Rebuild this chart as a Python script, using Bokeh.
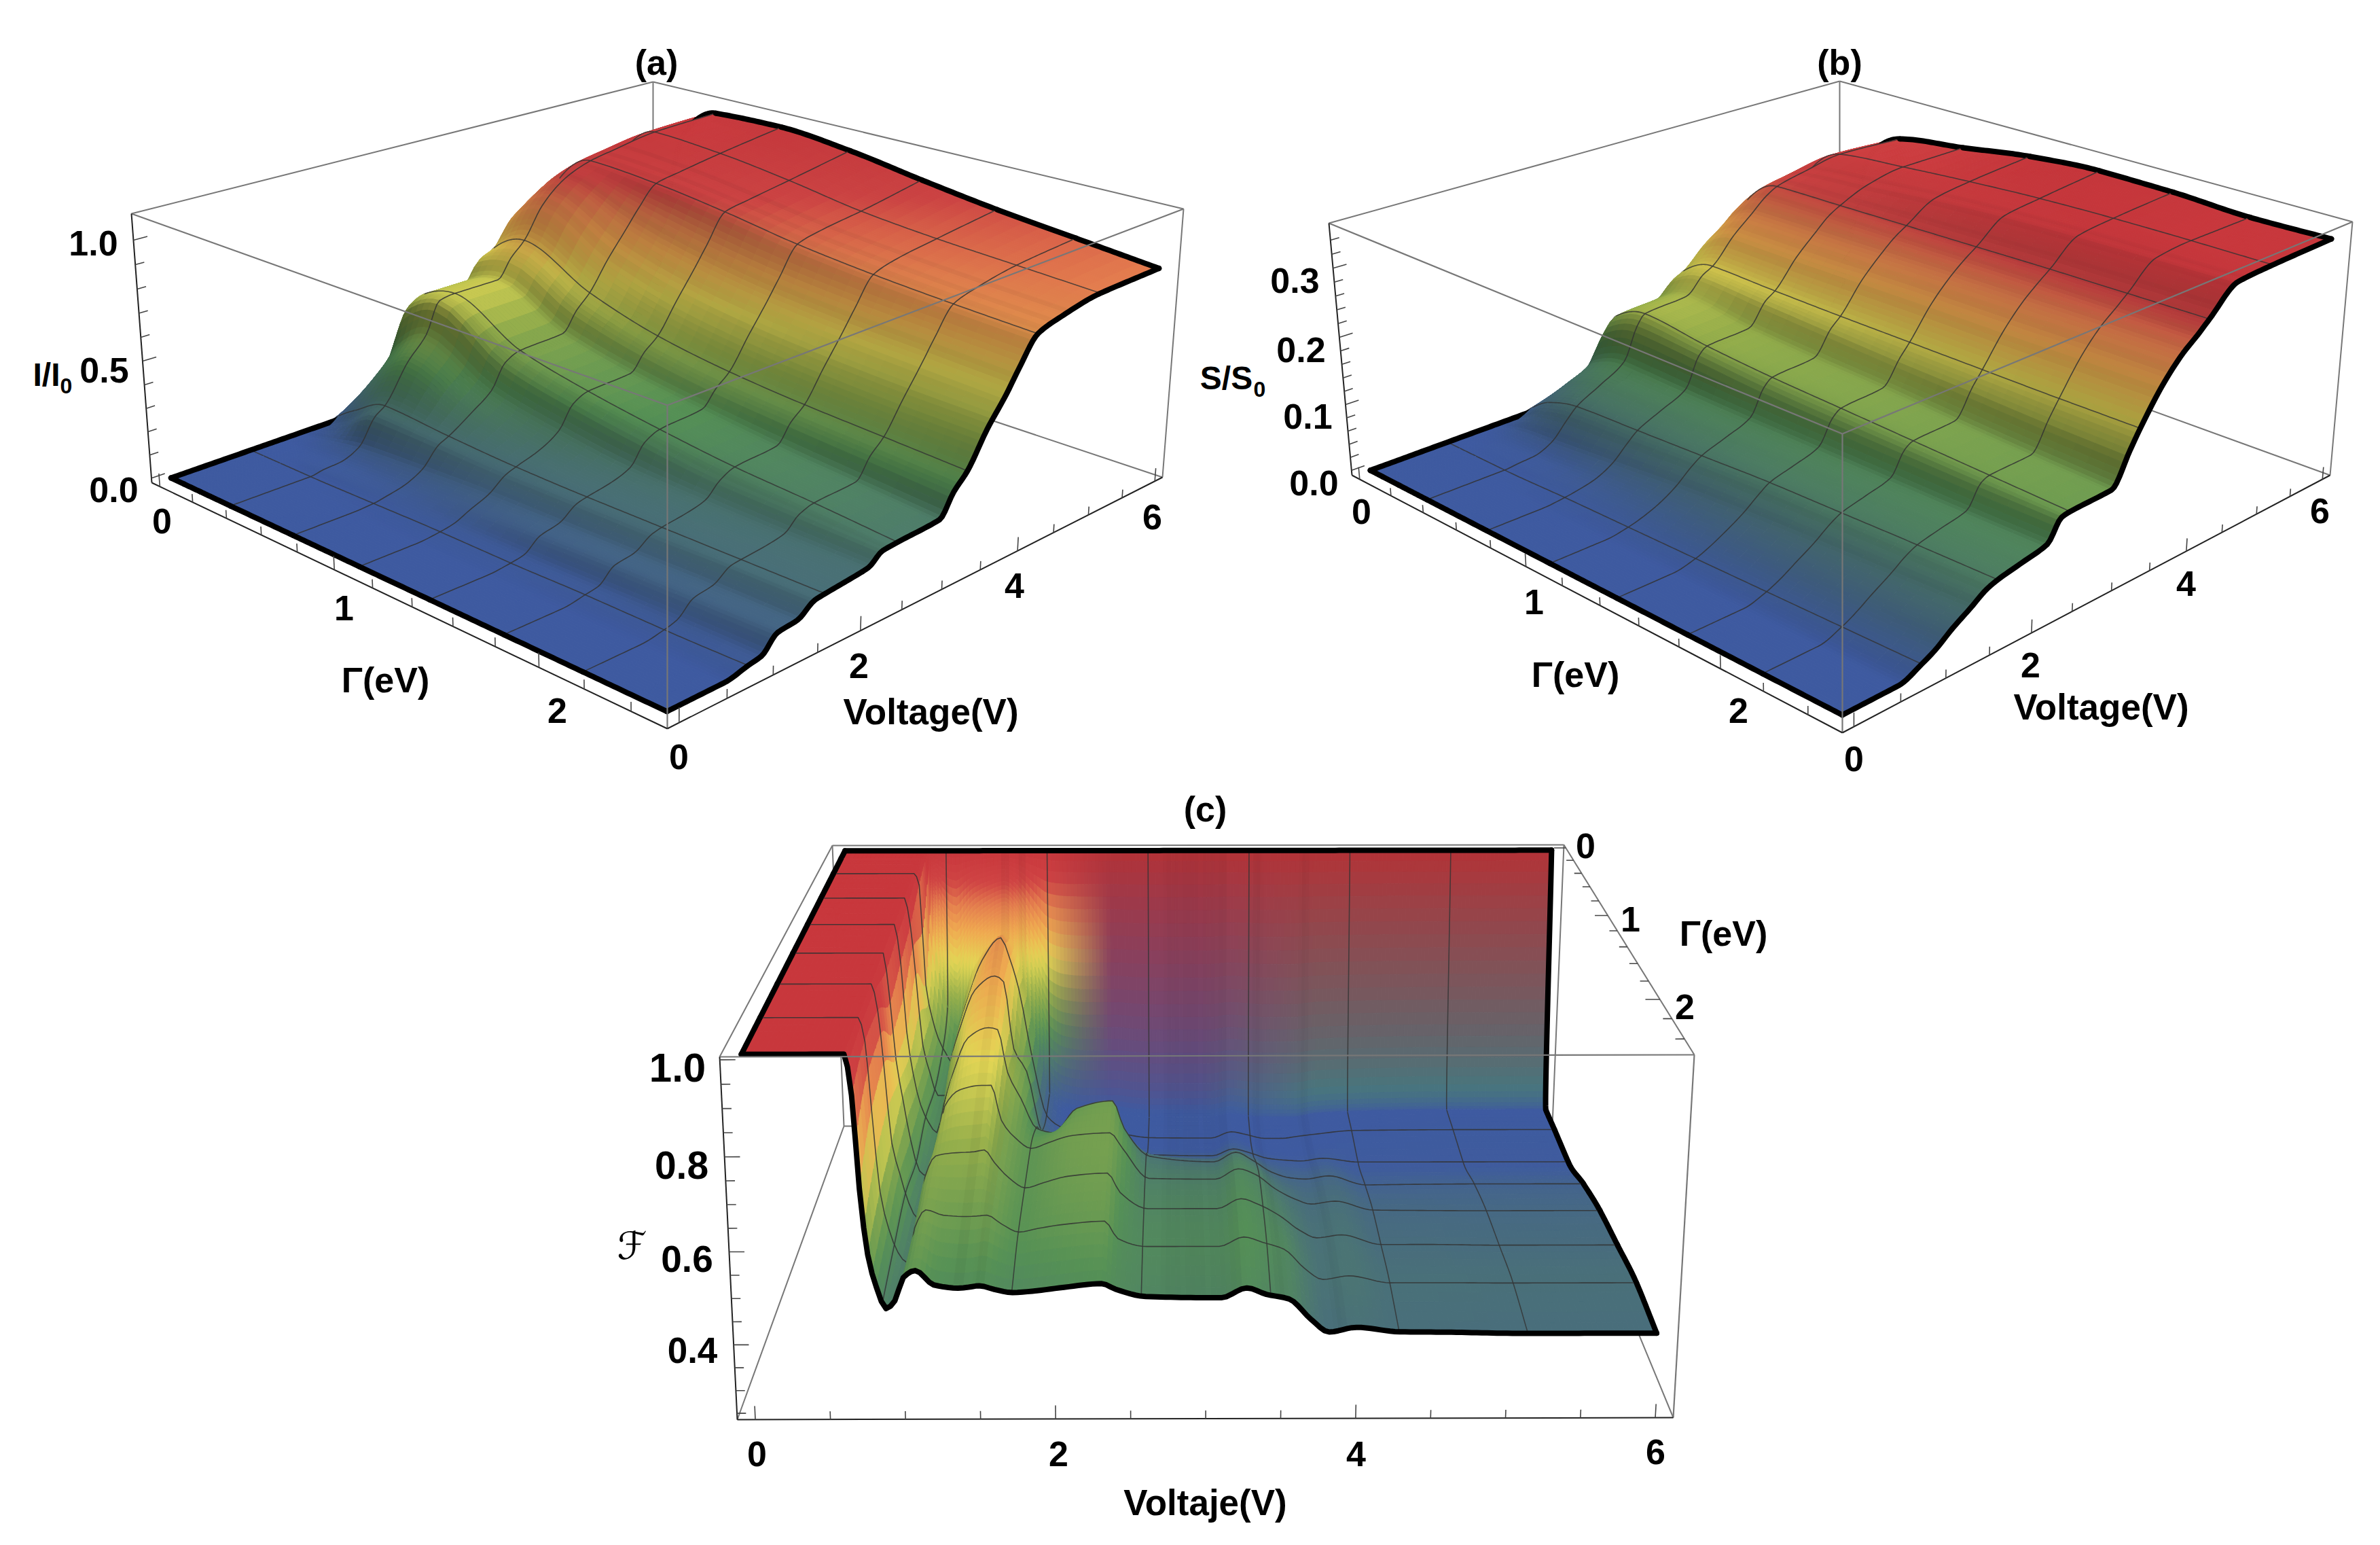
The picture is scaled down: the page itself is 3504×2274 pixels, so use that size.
import numpy as np
from bokeh.plotting import figure
from bokeh.models import Range1d
from bokeh.core.properties import value
from bokeh.embed import file_html
from bokeh.resources import INLINE

# ---------- data ----------
GAMMA_MESH = [0.357, 0.714, 1.071, 1.429, 1.786, 2.143, 2.5]
V_MESH = [0.857, 1.714, 2.571, 3.429, 4.286, 5.143]

V_A = [0,.6,.86,1.0,1.18,1.4,1.6,1.71,2.0,2.22,2.39,2.57,3.09,3.26,3.43,3.66,3.9,4.05,4.29,4.6,5.14,6]
GAMMA_A = [0,.08,.18,.357,.714,1.071,1.429,1.786,2.143,2.5]
I_G000 = [0]*22
I_G008 = [0,0,0,0,0,.008,.03,.06,.13,.17,.26,.27,.28,.32,.36,.43,.47,.49,.5,.51,.53,.55]
I_G018 = [0,0,0,.002,.005,.025,.07,.115,.24,.34,.50,.53,.53,.61,.64,.75,.81,.84,.87,.89,.91,.92]
I_G036 = [0,0,0,.01,.015,.05,.16,.19,.35,.44,.57,.58,.58,.66,.72,.85,.93,.96,.99,1.01,1.04,1.05]
I_G071 = [0,0,.005,.015,.03,.07,.15,.17,.24,.30,.40,.43,.44,.52,.58,.70,.81,.88,.97,.99,1.02,1.06]
I_G107 = [0,0,.01,.02,.05,.085,.14,.155,.19,.24,.33,.36,.37,.44,.49,.61,.73,.81,.93,.95,.98,1.03]
I_G143 = [0,0,.01,.02,.07,.09,.14,.15,.17,.20,.28,.31,.325,.39,.44,.56,.68,.76,.88,.905,.93,.98]
I_G179 = [0,0,.015,.025,.08,.095,.14,.15,.165,.185,.24,.27,.285,.36,.41,.53,.65,.73,.845,.875,.90,.935]
I_G214 = [0,0,.015,.03,.085,.10,.145,.15,.16,.175,.225,.245,.255,.335,.39,.51,.63,.71,.82,.85,.88,.90]
I_G250 = [0,0,.02,.03,.09,.10,.145,.15,.16,.17,.21,.215,.225,.31,.37,.50,.61,.69,.80,.83,.86,.865]
I_ROWS = [I_G000,I_G008,I_G018,I_G036,I_G071,I_G107,I_G143,I_G179,I_G214,I_G250]

V_B = [0,.6,.86,1.0,1.2,1.4,1.59,1.71,2.0,2.3,2.47,2.57,3.09,3.31,3.43,3.71,3.95,4.14,4.29,4.66,5.14,6]
GAMMA_B = GAMMA_A
S_G000 = [0]*22
S_G008 = [0,0,0,0,.001,.005,.014,.022,.032,.042,.064,.072,.076,.088,.092,.108,.12,.128,.132,.136,.14,.136]
S_G018 = [0,0,0,.001,.003,.011,.029,.041,.06,.081,.124,.138,.143,.166,.173,.204,.225,.244,.253,.262,.269,.262]
S_G036 = [0,0,0,.002,.004,.015,.04,.055,.075,.098,.145,.16,.165,.19,.198,.235,.26,.28,.29,.30,.31,.305]
S_G071 = [0,0,.003,.006,.012,.025,.047,.06,.077,.095,.138,.148,.152,.185,.195,.235,.262,.282,.292,.31,.32,.32]
S_G107 = [0,0,.005,.01,.02,.035,.055,.065,.078,.093,.13,.14,.145,.18,.193,.236,.264,.283,.294,.32,.328,.336]
S_G143 = [0,0,.007,.014,.027,.042,.06,.07,.08,.092,.126,.135,.14,.175,.192,.237,.266,.284,.296,.327,.334,.344]
S_G179 = [0,0,.009,.017,.032,.047,.064,.072,.081,.091,.123,.13,.133,.172,.191,.237,.267,.285,.298,.331,.337,.343]
S_G214 = [0,0,.011,.02,.036,.051,.067,.074,.082,.09,.12,.125,.127,.168,.19,.238,.268,.285,.299,.333,.338,.338]
S_G250 = [0,0,.013,.022,.04,.055,.07,.075,.082,.09,.118,.12,.122,.166,.19,.238,.268,.285,.30,.335,.338,.34]
S_ROWS = [S_G000,S_G008,S_G018,S_G036,S_G071,S_G107,S_G143,S_G179,S_G214,S_G250]

V_C = [0,.66,.70,.73,.77,.82,.88,.94,1.0,1.08,1.2,1.36,1.43,1.5,1.6,1.72,1.85,2.03,2.31,2.4,2.6,3.1,3.27,3.4,3.55,3.7,3.82,4.0,4.29,4.6,5.14,6]
GAMMA_C = [0,.12,.357,.714,1.071,1.429,1.786,2.143,2.5]
F_G000 = [1]*32
F_G012 = [1,1,.99,.85,.75,.65,.58,.55,.62,.70,.76,.80,.76,.68,.52,.36,.32,.31,.31,.305,.30,.30,.31,.305,.30,.30,.30,.31,.315,.318,.32,.32]
F_G036 = [1,1,.97,.71,.63,.57,.53,.502,.60,.68,.775,.834,.78,.70,.52,.36,.33,.32,.32,.31,.302,.301,.318,.31,.30,.30,.305,.312,.321,.322,.323,.323]
F_G071 = [1,1,.93,.808,.63,.56,.50,.50,.60,.68,.77,.805,.79,.62,.562,.40,.37,.36,.375,.36,.345,.342,.36,.35,.335,.33,.328,.335,.325,.325,.325,.325]
F_G107 = [1,1,.906,.74,.636,.56,.515,.49,.56,.64,.725,.75,.745,.64,.575,.50,.49,.55,.569,.50,.43,.416,.44,.42,.39,.375,.372,.38,.357,.358,.359,.359]
F_G143 = [1,1,.883,.75,.66,.56,.485,.472,.513,.64,.68,.69,.69,.607,.565,.539,.553,.57,.576,.54,.466,.464,.489,.475,.44,.415,.403,.41,.388,.387,.386,.386]
F_G179 = [1,1,.94,.82,.64,.57,.50,.465,.562,.61,.617,.62,.624,.595,.56,.536,.548,.563,.57,.525,.487,.487,.51,.496,.47,.435,.418,.425,.402,.402,.40,.40]
F_G214 = [1,1,.949,.80,.62,.54,.485,.462,.54,.58,.568,.565,.566,.568,.548,.53,.538,.547,.554,.515,.497,.497,.518,.506,.49,.445,.422,.43,.414,.414,.413,.413]
F_G250 = [1,1,.915,.72,.58,.51,.463,.48,.53,.545,.514,.507,.509,.512,.504,.497,.50,.507,.516,.504,.488,.485,.506,.492,.482,.437,.41,.42,.41,.409,.406,.406]
F_ROWS = [F_G000,F_G012,F_G036,F_G071,F_G107,F_G143,F_G179,F_G214,F_G250]
WALL_BLEND_V = [0,1.7,2.25,6]
WALL_BLEND_W = [0,0,1,1]
WALL_TEAL_V = [0,3.0,4.0,6]
WALL_TEAL_W = [0,0,1,1]

STRIPES_A = [1.45,1.55,2.34,2.44,3.2,3.3,3.7,3.82,4.0,4.2,4.35,4.5,4.7]
STRIPES_B = [1.45,1.6,2.3,2.45,3.25,3.35,3.65,3.8,4.0,4.15,4.3,4.4,4.6,4.75]
STRIPES_C = [1.36,1.5,2.75,2.82,2.9,2.97,3.05,3.12,3.2,3.5,3.9]

CMAP_POS = [0,.12,.3,.45,.58,.70,.80,.88,1.0]
CMAP_RGB = [(62,90,160),(72,108,125),(85,145,85),(150,175,75),(228,215,85),(240,170,80),(228,125,78),(208,68,68),(200,55,60)]

# ---------- helpers ----------
def pchip(x, y, xq):
    x = np.asarray(x, float); y = np.asarray(y, float); xq = np.asarray(xq, float)
    h = np.diff(x); d = np.diff(y)/h
    m = np.zeros_like(y)
    for i in range(1, len(y)-1):
        if d[i-1]*d[i] > 0:
            w1 = 2*h[i]+h[i-1]; w2 = h[i]+2*h[i-1]
            m[i] = (w1+w2)/(w1/d[i-1]+w2/d[i])
    m[0] = d[0]; m[-1] = d[-1]
    i = np.clip(np.searchsorted(x, xq, side="right")-1, 0, len(h)-1)
    t = (xq-x[i])/h[i]
    return ((2*t**3-3*t**2+1)*y[i] + (t**3-2*t**2+t)*h[i]*m[i]
            + (-2*t**3+3*t**2)*y[i+1] + (t**3-t**2)*h[i]*m[i+1])

def subdivide(knots, step, minsub):
    out = []
    for a, b in zip(knots[:-1], knots[1:]):
        n = max(minsub, int(np.ceil((b-a)/step)))
        out.extend(np.linspace(a, b, n, endpoint=False))
    out.append(knots[-1])
    return np.array(out)

VL, VH, GL, GH = -0.12, 6.12, -0.05, 2.55

class Cam:
    """corners: dict keyed by (iV,iG,iZ) in {0,1} giving the screen point of that box corner."""
    def __init__(self, corners, zl, zh):
        self.zl, self.zh = zl, zh
        A = []
        for (a, b, c), (u, v) in corners.items():
            X, Y, Z = (VL, VH)[a], (GL, GH)[b], (zl, zh)[c]
            A.append([X, Y, Z, 1, 0, 0, 0, 0, -u*X, -u*Y, -u*Z, -u])
            A.append([0, 0, 0, 0, X, Y, Z, 1, -v*X, -v*Y, -v*Z, -v])
        self.M = np.linalg.svd(np.array(A, float))[2][-1].reshape(3, 4)
        self.R = {}
        for (a, b, c), (u, v) in corners.items():
            x, y = self.raw((VL, VH)[a], (GL, GH)[b], (zl, zh)[c])
            self.R[(a, b, c)] = (u-x, v-y)

    def raw(self, V, G, Z):
        V, G, Z = np.broadcast_arrays(np.asarray(V, float), np.asarray(G, float), np.asarray(Z, float))
        h = np.stack([V, G, Z, np.ones_like(V)], axis=-1) @ self.M.T
        return h[..., 0]/h[..., 2], h[..., 1]/h[..., 2]

    def __call__(self, V, G, Z):
        V, G, Z = np.broadcast_arrays(np.asarray(V, float), np.asarray(G, float), np.asarray(Z, float))
        x, y = self.raw(V, G, Z)
        a = (V-VL)/(VH-VL); b = (G-GL)/(GH-GL); c = (Z-self.zl)/(self.zh-self.zl)
        for (i, j, k), (dx, dy) in self.R.items():
            w = (a if i else 1-a)*(b if j else 1-b)*(c if k else 1-c)
            x = x+w*dx; y = y+w*dy
        return x, y

def cmap(n):
    n = np.clip(n, 0, 1)
    rgb = np.array(CMAP_RGB, float)
    return np.stack([np.interp(n, CMAP_POS, rgb[:, i]) for i in range(3)], axis=-1)

def hexes(c):
    c = np.clip(np.round(c), 0, 255).astype(int).reshape(-1, 3)
    return ["#%02x%02x%02x" % tuple(r) for r in c]

p = figure(width=3488, height=2256, x_range=Range1d(0, 3488), y_range=Range1d(2256, 0),
           toolbar_location=None, output_backend="svg", min_border=0,
           x_axis_location=None, y_axis_location=None)
p.grid.visible = False
p.outline_line_color = None

GRID, EDGE = "#333333", "#000000"
BOX = "#777777"

def lines(P, pts, color=BOX, width=2.0, alpha=1.0):
    xs, ys = [], []
    for a, b in pts:
        x, y = P([a[0], b[0]], [a[1], b[1]], [a[2], b[2]])
        xs.append(list(x)); ys.append(list(y))
    p.multi_line(xs=xs, ys=ys, line_color=color, line_width=width, line_alpha=alpha)

def surface(P, Vk, Gk, rows, norm, shade_k, stripes, order_center=None, blend=None, zscale=1.0):
    Vf = subdivide(Vk, 0.035, 2)
    Zr = np.array([pchip(Vk, r, Vf) for r in rows])
    band = np.ones_like(Vf)
    for v in stripes:
        band = band*(1-0.07*np.exp(-((Vf-v)/0.02)**2))
    if order_center is None:
        jorder = np.arange(len(Vf)-2, -1, -1)
    else:
        jorder = np.argsort(-np.abs(Vf[:-1]-order_center))
    for ii in range(len(Gk)-1):
        sub = 5 if (ii > 0 or blend is None) else 26
        Gf = np.linspace(Gk[ii], Gk[ii+1], sub+1)
        Z = np.array([pchip(Gk, Zr[:, j], Gf) for j in range(len(Vf))]).T
        C = cmap(norm(Z))
        if blend is not None and ii == 0:
            w = np.interp(Vf, blend[0], blend[1])[None, :, None]
            w2 = np.interp(Vf, WALL_TEAL_V, WALL_TEAL_W)[None, :, None]
            c0, c1 = cmap(norm(Zr[0]))*0.9, cmap(norm(Zr[1]))
            teal = np.array([72, 118, 125], float)[None, None, :]
            t = ((Gf-Gk[0])/(Gk[1]-Gk[0]))[:, None, None]
            tl = np.clip(t/0.9, 0, 1)
            lin = (1-tl)*c0[None] + tl*c1[None]
            t1 = np.clip(t/0.78, 0, 1); t2 = np.clip((t-0.78)/0.22, 0, 1)
            pw = (1-t2)*((1-t1)*c0[None] + t1*teal) + t2*c1[None]
            C = (1-w)*C + w*((1-w2)*lin + w2*pw)
            shade = np.ones_like(Z)
        else:
            shade = shade_k(np.gradient(Z, Vf, axis=1)/zscale)
        C = C*(shade*band[None, :])[..., None]
        X, Y = P(Vf[None, :], Gf[:, None], Z)
        Cq = (C[:-1, :-1]+C[1:, :-1]+C[:-1, 1:]+C[1:, 1:])/4

        def strip(gs):
            xs, ys, cs = [], [], []
            for g in gs:
                for j in jorder:
                    xs.append([X[g, j], X[g, j+1], X[g+1, j+1], X[g+1, j]])
                    ys.append([Y[g, j], Y[g, j+1], Y[g+1, j+1], Y[g+1, j]])
                    cs.append(Cq[g, j])
            col = hexes(np.array(cs))
            p.patches(xs=xs, ys=ys, fill_color=col, line_color=col, line_width=1.0)

        strip([0])
        # constant-gamma mesh line at the back of this strip, over its first row of cells
        for g in GAMMA_MESH:
            if abs(g-Gk[ii]) < 1e-2:
                x, y = P(Vf, g, Zr[ii])
                p.line(x=list(x), y=list(y), line_color=GRID, line_width=1.6, line_alpha=0.85)
        strip(range(1, sub))
        Gl = np.linspace(Gk[ii], Gk[ii+1], 25)
        mx, my = [], []
        for v in V_MESH:
            zv = np.array([np.interp(v, Vf, Zr[k]) for k in range(len(Gk))])
            zl = pchip(Gk, zv, Gl)
            x, y = P(v, Gl, zl)
            mx.append(list(x)); my.append(list(y))
        p.multi_line(xs=mx, ys=my, line_color=GRID, line_width=1.6, line_alpha=0.8)
        ex, ey = [], []
        for v, jj in ((Vf[0], 0), (Vf[-1], len(Vf)-1)):
            zl = pchip(Gk, Zr[:, jj], Gl)
            x, y = P(v, Gl, zl)
            ex.append(list(x)); ey.append(list(y))
        if ii == 0:
            x, y = P(Vf, Gk[0], Zr[0]); ex.append(list(x)); ey.append(list(y))
        if ii == len(Gk)-2:
            x, y = P(Vf, Gk[-1], Zr[-1]); ex.append(list(x)); ey.append(list(y))
        p.multi_line(xs=ex, ys=ey, line_color=EDGE, line_width=8, line_join="round", line_cap="round")

def labels(items):
    for txt, x, y, size, *rest in items:
        style = rest[0] if rest else "bold"
        font = rest[1] if len(rest) > 1 else "Liberation Sans"
        p.text(x=[x], y=[y], text=[txt], text_font=value(font), text_font_size=f"{size}px",
               text_font_style=style, text_align="center", text_baseline="middle", text_color="#000000")

def ticks_vg(P, zl, dz):
    seg = []
    for v in np.arange(0, 6.01, 0.5):
        L = dz*(1.0 if abs(v % 2) < 1e-6 else 0.62)
        seg.append(((v, GH, zl), (v, GH, zl+L)))
    for g in np.arange(0, 2.51, 0.2):
        L = dz*(1.0 if abs(g-round(g)) < 1e-6 else 0.62)
        seg.append(((VL, g, zl), (VL, g, zl+L)))
    lines(P, seg, color="#444444", width=1.6)

# ---------- panels (a) and (b) ----------
def upright(c, zl, zh, Vk, Gk, rows, norm, shade, stripes, zt, zminor, zscale):
    P = Cam({(0,0,0): c[0], (0,0,1): c[1], (0,1,0): c[2], (0,1,1): c[3],
             (1,1,0): c[4], (1,1,1): c[5], (1,0,1): c[6], (1,0,0): c[7]}, zl, zh)
    lines(P, [((VH, GL, zl), (VH, GL, zh)), ((VL, GL, zh), (VH, GL, zh)), ((VH, GL, zh), (VH, GH, zh)),
              ((VH, GL, zl), (VH, GH, zl)), ((VH, GH, zl), (VH, GH, zh))])
    surface(P, Vk, Gk, rows, norm, shade, stripes, zscale=zscale)
    lines(P, [((VL, GL, zh), (VL, GH, zh)), ((VL, GH, zh), (VH, GH, zh)), ((VL, GH, zl), (VL, GH, zh))], width=2.2)
    lines(P, [((VL, GL, zl), (VL, GL, zh)), ((VL, GL, zl), (VL, GH, zl)), ((VL, GH, zl), (VH, GH, zl))],
          color="#222222", width=2.0)
    ticks_vg(P, zl, (zh-zl)*0.05)
    seg = []
    for z in zminor:
        L = 0.14 if any(abs(z-t) < 1e-6 for t in zt) else 0.09
        seg.append(((VL, GL, z), (VL+L, GL, z)))
    lines(P, seg, color="#444444", width=1.6)

shade_ab = lambda s: 1-0.42*np.clip(s/0.9, 0, 1)

upright([(223, 710), (193, 314), (982, 1072), (982, 596), (1711, 702), (1742, 307), (961, 120), (961, 452)],
        -0.02, 1.107, V_A, GAMMA_A, I_ROWS, lambda z: z/1.08, shade_ab, STRIPES_A, [0.0, 0.5, 1.0],
        [round(.1*i, 1) for i in range(0, 11)], 1.08)
upright([(1990, 699), (1956, 328), (2712, 1078), (2712, 638), (3430, 699), (3463, 326), (2708, 119), (2708, 437)],
        -0.0075, 0.364, V_B, GAMMA_B, S_ROWS, lambda z: z/0.335, shade_ab, STRIPES_B, [0.0, 0.1, 0.2, 0.3],
        [round(.02*i, 2) for i in range(0, 18)], 0.345)

# ---------- panel (c) ----------
zlc, zhc = 0.236, 1.006
Pc = Cam({(0,1,0): (1085, 2089), (1,1,0): (2463, 2086), (0,1,1): (1059, 1555), (1,1,1): (2494, 1552),
          (0,0,1): (1225, 1244), (1,0,1): (2302, 1243), (0,0,0): (1242, 1657), (1,0,0): (2285, 1656)}, zlc, zhc)
lines(Pc, [((VL, GL, zhc), (VH, GL, zhc)), ((VL, GL, zhc), (VL, GL, zlc)), ((VH, GL, zhc), (VH, GL, zlc)),
           ((VL, GL, zlc), (VH, GL, zlc)), ((VL, GL, zlc), (VL, GH, zlc)), ((VH, GL, zlc), (VH, GH, zlc)),
           ((VL, GL, zhc), (VL, GH, zhc)), ((VH, GL, zhc), (VH, GH, zhc))])
surface(Pc, V_C, GAMMA_C, F_ROWS, lambda z: (z-0.32)/0.68,
        lambda s: 1-0.22*np.clip(s/3.0, 0, 1), STRIPES_C, order_center=3.0,
        blend=(WALL_BLEND_V, WALL_BLEND_W))
lines(Pc, [((VL, GH, zhc), (VH, GH, zhc)), ((VH, GH, zlc), (VH, GH, zhc))], width=2.2)
lines(Pc, [((VL, GH, zlc), (VL, GH, zhc)), ((VL, GH, zlc), (VH, GH, zlc))], color="#222222", width=2.0)
seg = []
for v in np.arange(0, 6.01, 0.5):
    L = 0.03 if abs(v % 2) < 1e-6 else 0.018
    seg.append(((v, GH, zlc), (v, GH, zlc+L)))
for z in np.arange(0.25, 1.001, 0.05):
    L = 0.10 if abs(round(z*100) % 20) < 1e-6 else 0.06
    seg.append(((VL, GH, z), (VL+L, GH, z)))
for g in np.arange(0, 2.51, 0.2):
    L = 0.10 if abs(g-round(g)) < 1e-6 else 0.06
    seg.append(((VH, g, zhc), (VH-L, g, zhc)))
lines(Pc, seg, color="#444444", width=1.6)

# ---------- text ----------
T = 52
labels([
    ("(a)", 966, 91, T), ("1.0", 137, 357, T), ("0.5", 153, 544, T), ("0.0", 167, 720, T),
    ("I/I", 68, 551, 48), ("0", 97, 567, 32),
    ("0", 238, 766, T), ("1", 506, 894, T), ("2", 820, 1045, T), ("Γ(eV)", 567, 1000, T),
    ("0", 999, 1113, T), ("2", 1264, 979, T), ("4", 1493, 861, T), ("6", 1696, 760, T),
    ("Voltage(V)", 1370, 1047, 53),
    ("(b)", 2708, 91, T), ("0.3", 1906, 412, T), ("0.2", 1915, 514, T), ("0.1", 1925, 612, T),
    ("0.0", 1934, 710, T), ("S/S", 1805, 556, 48), ("0", 1854, 572, 32),
    ("0", 2004, 752, T), ("1", 2258, 885, T), ("2", 2559, 1045, T), ("Γ(eV)", 2319, 992, T),
    ("0", 2729, 1116, T), ("2", 2989, 978, T), ("4", 3218, 858, T), ("6", 3415, 751, T),
    ("Voltage(V)", 3093, 1040, 53),
    ("(c)", 1774, 1190, T), ("1.0", 997, 1571, 60), ("0.8", 1003, 1714, 57), ("0.6", 1011, 1852, 55),
    ("0.4", 1019, 1987, 53), ("ℱ", 930, 1833, 56, "normal", "DejaVu Sans"),
    ("0", 1114, 2139, T), ("2", 1558, 2139, T), ("4", 1996, 2139, T), ("6", 2437, 2136, T),
    ("Voltaje(V)", 1774, 2211, 53),
    ("0", 2334, 1244, T), ("1", 2400, 1352, T), ("2", 2480, 1481, T), ("Γ(eV)", 2537, 1373, T),
])

open("out.html", "w").write(file_html(p, INLINE))
